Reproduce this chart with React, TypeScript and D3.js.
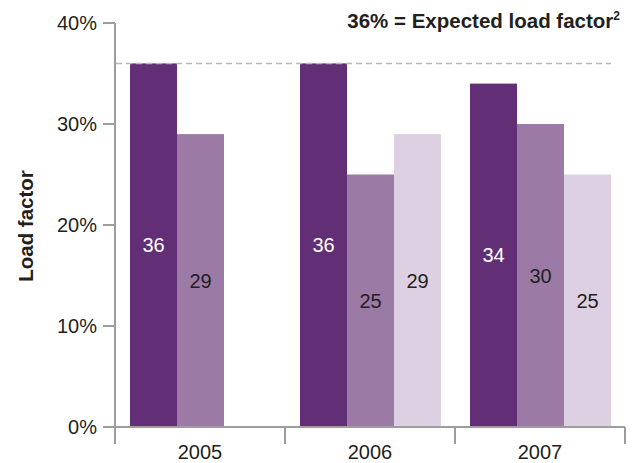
import * as d3 from "d3";

const years = ["2005", "2006", "2007"];
const seriesA = [36, 36, 34];
const seriesB = [29, 25, 30];
const seriesC: (number | null)[] = [null, 29, 25];
const yTicks = [0, 10, 20, 30, 40];
const expected = 36;

const colors = ["#622f76", "#9b7ba6", "#ddd0e3"];
const labelColors = ["#ffffff", "#231f20", "#231f20"];

export default function App() {
  const width = 635;
  const height = 463;
  const left = 115;
  const right = 625;
  const top = 23;
  const bottom = 427;
  const font = "'Liberation Sans', Arial, sans-serif";

  const x = d3.scaleBand<string>().domain(years).range([left, right]);
  const inner = d3
    .scaleBand<number>()
    .domain([0, 1, 2])
    .range([15, 156]);
  const y = d3.scaleLinear().domain([0, 40]).range([bottom, top]);

  const series = [seriesA, seriesB, seriesC];
  const axisColor = "#9d9d9d";

  return (
    <svg width={width} height={height} style={{ position: "absolute", left: 0, top: 0 }}>
      {/* bars */}
      {series.map((vals, si) =>
        vals.map((v, i) => {
          if (v == null) return null;
          const bx = (x(years[i]) ?? 0) + (inner(si) ?? 0);
          const bw = inner.bandwidth();
          return (
            <g key={`${si}-${i}`}>
              <rect x={bx} y={y(v)} width={bw} height={y(0) - y(v)} fill={colors[si]} />
              <text
                x={bx + bw / 2}
                y={(y(v) + y(0)) / 2}
                dy="0.35em"
                textAnchor="middle"
                fontFamily={font}
                fontSize={20}
                fill={labelColors[si]}
              >
                {v}
              </text>
            </g>
          );
        })
      )}

      {/* expected line */}
      <line
        x1={left + 1}
        x2={611}
        y1={y(expected)}
        y2={y(expected)}
        stroke="#b8b8b8"
        strokeWidth={1.5}
        strokeDasharray="6,4"
      />
      <text
        x={620}
        y={28}
        textAnchor="end"
        fontFamily={font}
        fontWeight="bold"
        fontSize={20.5}
        fill="#231f20"
      >
        {`${expected}% = Expected load factor`}
        <tspan fontSize={12} dy={-8}>2</tspan>
      </text>

      {/* y axis */}
      <line x1={left} x2={left} y1={top} y2={bottom} stroke={axisColor} strokeWidth={2} />
      {yTicks.map((t) => (
        <g key={t}>
          <line x1={left - 12} x2={left} y1={y(t)} y2={y(t)} stroke={axisColor} strokeWidth={2} />
          <text
            x={97}
            y={y(t)}
            dy="0.35em"
            textAnchor="end"
            fontFamily={font}
            fontSize={20}
            fill="#231f20"
          >
            {`${t}%`}
          </text>
        </g>
      ))}
      <text
        transform={`translate(33, ${(top + bottom) / 2 + 1}) rotate(-90)`}
        textAnchor="middle"
        fontFamily={font}
        fontWeight="bold"
        fontSize={20.5}
        fill="#231f20"
      >
        Load factor
      </text>

      {/* x axis */}
      <line x1={left} x2={right} y1={bottom} y2={bottom} stroke={axisColor} strokeWidth={2} />
      {[...years.map((yr) => x(yr) ?? 0), right].map((px, i) => (
        <line key={i} x1={px} x2={px} y1={bottom} y2={444} stroke={axisColor} strokeWidth={2} />
      ))}
      {years.map((yr) => (
        <text
          key={yr}
          x={(x(yr) ?? 0) + x.bandwidth() / 2}
          y={459}
          textAnchor="middle"
          fontFamily={font}
          fontSize={20}
          fill="#231f20"
        >
          {yr}
        </text>
      ))}
    </svg>
  );
}
